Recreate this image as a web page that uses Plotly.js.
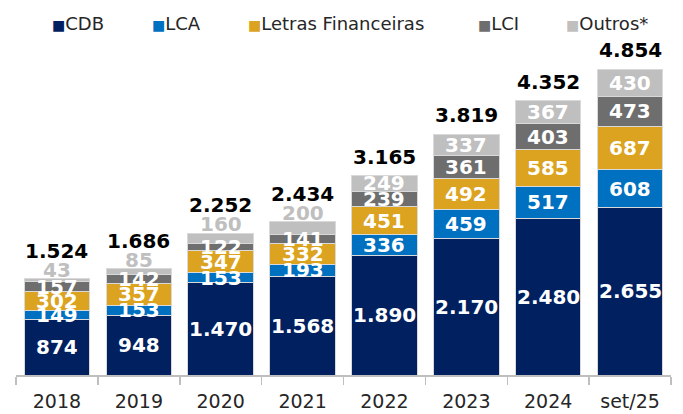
<!DOCTYPE html>
<html>
<head>
<meta charset="utf-8">
<script src="https://cdn.plot.ly/plotly-3.0.1.min.js"></script>
<style>
  html, body { margin: 0; padding: 0; background: #ffffff; }
  #chart { width: 683px; height: 414px; }
</style>
</head>
<body>
<div id="chart"></div>
<script>
// ---- data ----
const categories = ['2018', '2019', '2020', '2021', '2022', '2023', '2024', 'set/25'];
const cdb     = [874, 948, 1470, 1568, 1890, 2170, 2480, 2655];
const lca     = [149, 153, 153, 193, 336, 459, 517, 608];
const letras  = [302, 357, 347, 332, 451, 492, 585, 687];
const lci     = [157, 142, 122, 141, 239, 361, 403, 473];
const outros  = [43, 85, 160, 200, 249, 337, 367, 430];
const totals  = [1524, 1686, 2252, 2434, 3165, 3819, 4352, 4854];
const seriesNames = ['CDB', 'LCA', 'Letras Financeiras', 'LCI', 'Outros*'];

// ---- styles ----
const colors = ['#002060', '#0070c0', '#dba31f', '#6e6e6e', '#bfbfbf'];
const series = [cdb, lca, letras, lci, outros];
const numFont = 'DejaVu Sans';

function fmt(n) {
  return String(n).replace(/\B(?=(\d{3})+(?!\d))/g, '.');
}

const traces = series.map((vals, k) => ({
  type: 'bar',
  name: seriesNames[k],
  x: categories,
  y: vals,
  marker: { color: colors[k], line: { color: '#d9d9d9', width: 1 } },
  hoverinfo: 'skip'
}));

const annotations = [];
categories.forEach((cat, i) => {
  let base = 0;
  series.forEach((vals, k) => {
    const v = vals[i];
    const outside = (k === 4 && v <= 200);
    if (outside) {
      annotations.push({
        x: i, y: base + v, xref: 'x', yref: 'y',
        text: '<b>' + fmt(v) + '</b>', showarrow: false,
        yanchor: 'bottom', yshift: -5,
        font: { family: numFont, size: 20, color: '#bfbfbf' }
      });
    } else {
      annotations.push({
        x: i, y: base + v / 2, xref: 'x', yref: 'y',
        text: '<b>' + fmt(v) + '</b>', showarrow: false,
        yanchor: 'middle',
        font: { family: numFont, size: 20, color: '#ffffff' }
      });
    }
    base += v;
  });
  const out = outros[i] <= 200;
  annotations.push({
    x: i, y: base, xref: 'x', yref: 'y',
    text: '<b>' + fmt(totals[i]) + '</b>', showarrow: false,
    yanchor: 'bottom', yshift: out ? 14 : 5,
    font: { family: numFont, size: 20, color: '#000000' }
  });
});

// legend drawn as text entries (square glyph + label)
const legendX = [50, 150, 246, 476, 564];
const plotL = 16, plotR = 683 - 12, plotT = 40, plotB = 375;
seriesNames.forEach((nm, k) => {
  annotations.push({
    xref: 'paper', yref: 'paper',
    x: (legendX[k] - plotL) / (plotR - plotL),
    y: (plotB - 24) / (plotB - plotT),
    xanchor: 'left', yanchor: 'middle', showarrow: false,
    text: '<span style="color:' + colors[k] + ';font-size:14px">■</span>' + nm,
    font: { family: 'DejaVu Sans', size: 18, color: '#262626' }
  });
});

const layout = {
  width: 683, height: 414,
  margin: { l: plotL, r: 12, t: plotT, b: 414 - plotB },
  barmode: 'stack',
  bargap: 0.2,
  showlegend: false,
  paper_bgcolor: '#ffffff',
  plot_bgcolor: '#ffffff',
  font: { family: 'DejaVu Sans', size: 18, color: '#262626' },
  xaxis: {
    type: 'category',
    range: [-0.5, categories.length - 0.5],
    tickson: 'boundaries',
    ticks: 'outside', ticklen: 8, tickwidth: 1.5, tickcolor: '#bfbfbf',
    showline: true, linecolor: '#bfbfbf', linewidth: 1.5,
    showgrid: false, zeroline: false,
    ticklabelstandoff: 9,
    tickfont: { family: 'DejaVu Sans', size: 19, color: '#262626' },
    fixedrange: true
  },
  yaxis: {
    visible: false, range: [0, 5317], fixedrange: true,
    showgrid: false, zeroline: false
  },
  annotations: annotations
};

Plotly.newPlot('chart', traces, layout, { staticPlot: true, displayModeBar: false });
</script>
</body>
</html>
